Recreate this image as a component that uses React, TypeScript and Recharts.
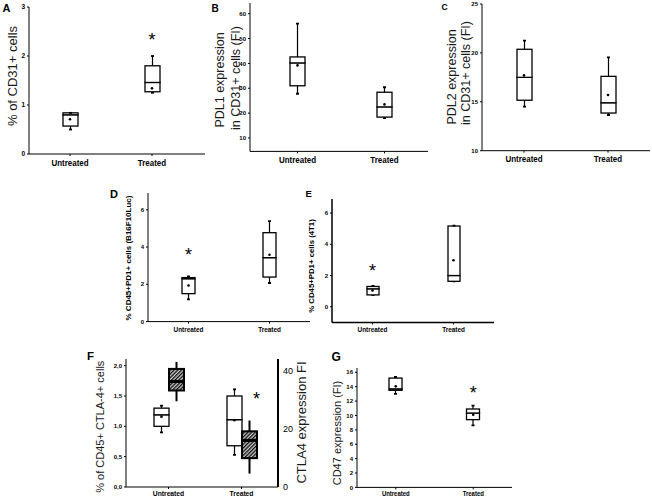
import React from 'react';
import { ComposedChart, Bar, Line, XAxis, YAxis } from 'recharts';

const categories = ['Untreated', 'Treated'];

// A: % of CD31+ cells
const aMin = [0.5, 1.25];
const aQ1 = [0.57, 1.27];
const aMedian = [0.8, 1.46];
const aQ3 = [0.84, 1.8];
const aMax = [0.84, 2.0];
const aMean = [0.71, 1.34];
const aStar = [null, 2.42];
const aTicks = [0, 1, 2, 3];

// B: PDL1 expression in CD31+ cells (FI)
const bMin = [27.8, 18];
const bQ1 = [31, 18.4];
const bMedian = [40.2, 22.5];
const bQ3 = [42.6, 28.4];
const bMax = [56, 30.4];
const bMean = [39.2, 23.5];
const bStar = [null, null];
const bTicks = [10, 20, 30, 40, 50, 60];

// C: PDL2 expression in CD31+ cells (FI)
const cMin = [14.5, 13.65];
const cQ1 = [15.16, 13.85];
const cMedian = [17.5, 14.9];
const cQ3 = [20.37, 17.6];
const cMax = [21.26, 19.55];
const cMean = [17.7, 15.7];
const cStar = [null, null];
const cTicks = [10, 15, 20, 25];

// D: % CD45+PD1+ cells (B16F10Luc)
const dMin = [1.19, 2.07];
const dQ1 = [1.5, 2.39];
const dMedian = [2.3, 3.43];
const dQ3 = [2.36, 4.77];
const dMax = [2.43, 5.39];
const dMean = [1.94, 3.59];
const dStar = [3.8, null];
const dTicks = [0, 2, 4, 6];

// E: % CD45+PD1+ cells (4T1)
const eMin = [0.75, 1.62];
const eQ1 = [0.76, 1.63];
const eMedian = [1.15, 2.0];
const eQ3 = [1.3, 5.17];
const eMax = [1.33, 5.2];
const eMean = [1.04, 2.98];
const eStar = [2.54, null];
const eTicks = [0, 2, 4, 6];

// F: % of CD45+ CTLA-4+ cells (left, white boxes)
const fMin = [0.9, 0.53];
const fQ1 = [1.0, 0.68];
const fMedian = [1.19, 1.11];
const fQ3 = [1.3, 1.5];
const fMax = [1.34, 1.61];
const fMean = [1.16, 1.1];
const fStar = [null, 1.52];
const fTicks = [0, 0.5, 1.0, 1.5, 2.0];
// F: CTLA4 expression FI (right, hatched boxes)
const ctlaMin = [29.4, 4.6];
const ctlaQ1 = [33.1, 9.9];
const ctlaMedian = [36.2, 16.0];
const ctlaQ3 = [40.5, 19.1];
const ctlaMax = [42.9, 22.8];
const ctlaTicks = [0, 20, 40];

// G: CD47 expression (FI)
const gMin = [13.0, 8.63];
const gQ1 = [13.5, 9.42];
const gMedian = [13.7, 10.34];
const gQ3 = [15.2, 10.9];
const gMax = [15.35, 11.36];
const gMean = [14.05, 10.1];
const gStar = [null, 13.7];
const gTicks = [0, 2, 4, 6, 8, 10, 12, 14, 16];

const FONT = '"Liberation Sans", Arial, sans-serif';

type Row = {
  cat: string;
  base: number; w1: number; b1: number; b2: number; w2: number;
  q1: number; med: number; q3: number;
  mean: number | null; star: number | null;
};

function buildRows(mn: number[], q1: number[], md: number[], q3: number[], mx: number[], mean: (number | null)[], star: (number | null)[]): Row[] {
  return categories.map((c, i) => ({
    cat: c,
    base: mn[i],
    w1: q1[i] - mn[i],
    b1: md[i] - q1[i],
    b2: q3[i] - md[i],
    w2: mx[i] - q3[i],
    q1: q1[i], med: md[i], q3: q3[i],
    mean: mean[i],
    star: star[i],
  }));
}

const rowsA = buildRows(aMin, aQ1, aMedian, aQ3, aMax, aMean, aStar);
const rowsB = buildRows(bMin, bQ1, bMedian, bQ3, bMax, bMean, bStar);
const rowsC = buildRows(cMin, cQ1, cMedian, cQ3, cMax, cMean, cStar);
const rowsD = buildRows(dMin, dQ1, dMedian, dQ3, dMax, dMean, dStar);
const rowsE = buildRows(eMin, eQ1, eMedian, eQ3, eMax, eMean, eStar);
const rowsG = buildRows(gMin, gQ1, gMedian, gQ3, gMax, gMean, gStar);
const rowsFw = buildRows(fMin, fQ1, fMedian, fQ3, fMax, fMean, fStar);
const rowsFh = buildRows(ctlaMin, ctlaQ1, ctlaMedian, ctlaQ3, ctlaMax, [null, null], [null, null]);
const rowsF = categories.map((c, i) => ({
  cat: c,
  wbase: rowsFw[i].base, ww1: rowsFw[i].w1, wb1: rowsFw[i].b1, wb2: rowsFw[i].b2, ww2: rowsFw[i].w2,
  wq1: rowsFw[i].q1, wmed: rowsFw[i].med, wq3: rowsFw[i].q3, wmean: rowsFw[i].mean,
  hbase: rowsFh[i].base, hw1: rowsFh[i].w1, hb1: rowsFh[i].b1, hb2: rowsFh[i].b2, hw2: rowsFh[i].w2,
  star: rowsFw[i].star,
}));

const noneShape = () => <g />;

function whisker(p: any, end: 'top' | 'bottom', sw: number, cap: number) {
  if (p == null || p.x == null || p.y == null) return <g />;
  const top = Math.min(p.y, p.y + p.height);
  const h = Math.abs(p.height);
  const cx = p.x + p.width / 2;
  const capY = end === 'top' ? top : top + h;
  return (
    <g>
      {h > 0.3 && <line x1={cx} x2={cx} y1={top} y2={top + h} stroke="#000" strokeWidth={sw} />}
      {cap > 0 && <line x1={cx - cap} x2={cx + cap} y1={capY} y2={capY} stroke="#000" strokeWidth={1.8} />}
    </g>
  );
}

function boxSeg(p: any, fill: string, sw: number, meanInfo?: { lo: number; hi: number; mean: number | null }) {
  if (p == null || p.x == null || p.y == null) return <g />;
  const top = Math.min(p.y, p.y + p.height);
  const h = Math.abs(p.height);
  let dot = null;
  if (meanInfo && meanInfo.mean != null && meanInfo.hi > meanInfo.lo && meanInfo.mean >= meanInfo.lo && meanInfo.mean <= meanInfo.hi) {
    const my = top + h * (meanInfo.hi - meanInfo.mean) / (meanInfo.hi - meanInfo.lo);
    dot = <circle cx={p.x + p.width / 2} cy={my} r={1.3} fill="#000" />;
  }
  return (
    <g>
      <rect x={p.x} y={top} width={p.width} height={h} fill={fill} stroke="#000" strokeWidth={sw} />
      {dot}
    </g>
  );
}

function hatchBox(p: any, medianAtTop: boolean) {
  if (p == null || p.x == null || p.y == null) return <g />;
  const id = `hatch-${p.index}-${Math.round(p.y)}`;
  const top = Math.min(p.y, p.y + p.height);
  const h = Math.abs(p.height);
  const my = medianAtTop ? top : top + h;
  return (
    <g>
      <defs>
        <pattern id={id} patternUnits="userSpaceOnUse" width={2.6} height={2.6} patternTransform="rotate(45)">
          <rect x={0} y={0} width={2.6} height={2.6} fill="#c8c8c8" />
          <rect x={0} y={0} width={1.3} height={2.6} fill="#111" />
        </pattern>
      </defs>
      <rect x={p.x} y={top} width={p.width} height={h} fill={`url(#${id})`} stroke="#000" strokeWidth={2} />
      <line x1={p.x} x2={p.x + p.width} y1={my} y2={my} stroke="#000" strokeWidth={3} />
    </g>
  );
}

const meanDot = (p: any) => {
  if (p == null || p.value == null || p.cy == null || isNaN(p.cy)) return <g key={`m-${p?.index}`} />;
  return <circle key={`m-${p.index}`} cx={p.cx} cy={p.cy} r={1.3} fill="#000" />;
};

function starDot(fs: number, dx: number) {
  return (p: any) => {
    if (p == null || p.value == null || p.cy == null || isNaN(p.cy)) return <g key={`s-${p?.index}`} />;
    return (
      <text key={`s-${p.index}`} x={p.cx + dx} y={p.cy + fs * 0.575} textAnchor="middle" fontSize={fs} fontFamily={FONT} fill="#000">*</text>
    );
  };
}

function narrowTick(fs: number, sx: number) {
  return (p: any) => (
    <g transform={`translate(${p.x},${p.y})`}>
      <text x={0} y={0} dy="0.71em" textAnchor="middle" transform={`scale(${sx},1)`} fontSize={fs} fontWeight={700} fontFamily={FONT} fill="#000">
        {p.payload.value}
      </text>
    </g>
  );
}

type PanelProps = {
  rows: Row[];
  x0: number; x1: number; y0: number; y1: number;
  domain: [number, number];
  ticks: number[];
  barSize: number;
  padL?: number; padR?: number;
  tickFs?: number; catFs?: number; catSx?: number; catMargin?: number; axisW?: number;
  starFs?: number;
};

function Panel(p: PanelProps) {
  const YW = 24, XH = 18, MT = 6, MR = 2;
  const w = p.x1 - p.x0 + YW + MR;
  const h = p.y1 - p.y0 + MT + XH;
  const tickFs = p.tickFs ?? 6.5;
  const catFs = p.catFs ?? 9.5;
  const axisW = p.axisW ?? 1;
  return (
    <div style={{ position: 'absolute', left: p.x0 - YW, top: p.y0 - MT }}>
      <ComposedChart width={w} height={h} data={p.rows} margin={{ top: MT, right: MR, bottom: 0, left: 0 }} barSize={p.barSize}>
        <XAxis
          dataKey="cat"
          height={XH}
          interval={0}
          padding={{ left: p.padL ?? 0, right: p.padR ?? 0 }}
          axisLine={{ stroke: '#000', strokeWidth: axisW }}
          tickLine={{ stroke: '#000' }}
          tickSize={2}
          tickMargin={p.catMargin ?? 3}
          tick={narrowTick(catFs, p.catSx ?? 0.84)}
        />
        <YAxis
          type="number"
          width={YW}
          domain={p.domain}
          ticks={p.ticks}
          allowDataOverflow
          interval={0}
          axisLine={{ stroke: '#000', strokeWidth: axisW }}
          tickLine={{ stroke: '#000' }}
          tickSize={2}
          tickMargin={2}
          tick={{ fontSize: tickFs, fontWeight: 700, fontFamily: FONT, fill: '#000' }}
        />
        <Bar dataKey="base" stackId="s" shape={noneShape} isAnimationActive={false} />
        <Bar dataKey="w1" stackId="s" shape={(q: any) => whisker(q, 'bottom', 1.2, 1.5)} isAnimationActive={false} />
        <Bar dataKey="b1" stackId="s" shape={(q: any) => boxSeg(q, '#fff', 1.3)} isAnimationActive={false} />
        <Bar dataKey="b2" stackId="s" shape={(q: any) => boxSeg(q, '#fff', 1.3)} isAnimationActive={false} />
        <Bar dataKey="w2" stackId="s" shape={(q: any) => whisker(q, 'top', 1.2, 1.5)} isAnimationActive={false} />
        <Line dataKey="mean" stroke="none" dot={meanDot} activeDot={false} isAnimationActive={false} legendType="none" />
        <Line dataKey="star" stroke="none" dot={starDot(p.starFs ?? 18, 0)} activeDot={false} isAnimationActive={false} legendType="none" />
      </ComposedChart>
    </div>
  );
}

function PanelF() {
  const x0 = 126, x1 = 278, y0 = 359.3, y1 = 487.3;
  const YW = 24, YWR = 22, XH = 18, MT = 6;
  const w = x1 - x0 + YW + YWR;
  const h = y1 - y0 + MT + XH;
  const fmt = (v: number) => v.toFixed(1).replace('.', ',');
  return (
    <div style={{ position: 'absolute', left: x0 - YW, top: y0 - MT }}>
      <ComposedChart width={w} height={h} data={rowsF} margin={{ top: MT, right: 0, bottom: 0, left: 0 }} barSize={15} barGap={0}>
        <XAxis
          dataKey="cat"
          height={XH}
          interval={0}
          padding={{ left: 6, right: 0 }}
          axisLine={{ stroke: '#000' }}
          tickLine={{ stroke: '#000' }}
          tickSize={2}
          tickMargin={1.5}
          tick={narrowTick(7.5, 0.9)}
        />
        <YAxis
          yAxisId="left"
          type="number"
          width={YW}
          domain={[0, 2.11]}
          ticks={fTicks}
          allowDataOverflow
          interval={0}
          tickFormatter={fmt}
          axisLine={{ stroke: '#000' }}
          tickLine={{ stroke: '#000' }}
          tickSize={2}
          tickMargin={2}
          tick={{ fontSize: 6, fontWeight: 700, fontFamily: FONT, fill: '#000' }}
        />
        <YAxis
          yAxisId="right"
          orientation="right"
          type="number"
          width={YWR}
          domain={[0, 43.9]}
          ticks={ctlaTicks}
          allowDataOverflow
          interval={0}
          axisLine={{ stroke: '#000', strokeWidth: 2 }}
          tickLine={false}
          tickSize={3}
          tickMargin={2}
          tick={{ fontSize: 9, fontFamily: FONT, fill: '#000' }}
        />
        <Bar yAxisId="left" dataKey="wbase" stackId="w" shape={noneShape} isAnimationActive={false} />
        <Bar yAxisId="left" dataKey="ww1" stackId="w" shape={(q: any) => whisker(q, 'bottom', 1.2, 1.5)} isAnimationActive={false} />
        <Bar yAxisId="left" dataKey="wb1" stackId="w" shape={(q: any) => boxSeg(q, '#fff', 1.3, { lo: q.payload.wq1, hi: q.payload.wmed, mean: q.payload.wmean })} isAnimationActive={false} />
        <Bar yAxisId="left" dataKey="wb2" stackId="w" shape={(q: any) => boxSeg(q, '#fff', 1.3, { lo: q.payload.wmed, hi: q.payload.wq3, mean: q.payload.wmean })} isAnimationActive={false} />
        <Bar yAxisId="left" dataKey="ww2" stackId="w" shape={(q: any) => whisker(q, 'top', 1.2, 1.5)} isAnimationActive={false} />
        <Bar yAxisId="right" dataKey="hbase" stackId="h" shape={noneShape} isAnimationActive={false} />
        <Bar yAxisId="right" dataKey="hw1" stackId="h" shape={(q: any) => whisker(q, 'bottom', 2, 0)} isAnimationActive={false} />
        <Bar yAxisId="right" dataKey="hb1" stackId="h" shape={(q: any) => hatchBox(q, true)} isAnimationActive={false} />
        <Bar yAxisId="right" dataKey="hb2" stackId="h" shape={(q: any) => hatchBox(q, false)} isAnimationActive={false} />
        <Bar yAxisId="right" dataKey="hw2" stackId="h" shape={(q: any) => whisker(q, 'top', 2, 0)} isAnimationActive={false} />
        <Line yAxisId="left" dataKey="star" stroke="none" dot={starDot(18, 15)} activeDot={false} isAnimationActive={false} legendType="none" />
      </ComposedChart>
    </div>
  );
}

function VText({ x, y, text, fs, bold, color }: { x: number; y: number; text: string; fs: number; bold?: boolean; color?: string }) {
  return (
    <text
      x={x}
      y={y}
      transform={`rotate(-90 ${x} ${y})`}
      textAnchor="middle"
      dominantBaseline="central"
      fontSize={fs}
      fontWeight={bold ? 700 : 400}
      fontFamily={FONT}
      fill={color ?? '#1a1a1a'}
    >
      {text}
    </text>
  );
}

function Letter({ x, y, t, fs }: { x: number; y: number; t: string; fs: number }) {
  return (
    <text x={x} y={y} fontSize={fs} fontWeight={700} fontFamily={FONT} fill="#000">{t}</text>
  );
}

export default function App() {
  return (
    <div style={{ position: 'absolute', left: 0, top: 0, width: 652, height: 498, background: '#fff', overflow: 'hidden', fontFamily: FONT }}>
      <Panel rows={rowsA} x0={29} x1={205} y0={7} y1={154} domain={[0, 3]} ticks={aTicks} barSize={15} padR={12} tickFs={6.5} catFs={9.5} />
      <Panel rows={rowsB} x0={250} x1={428} y0={3.3} y1={151.7} domain={[4.6, 64.3]} ticks={bTicks} barSize={15} padL={4} tickFs={6} catFs={9.5} />
      <Panel rows={rowsC} x0={482} x1={650} y0={4} y1={150.7} domain={[10, 25]} ticks={cTicks} barSize={15} tickFs={6} catFs={9.5} />
      <Panel rows={rowsD} x0={148} x1={310} y0={192.7} y1={321.3} domain={[0, 6.9]} ticks={dTicks} barSize={13} tickFs={6} catFs={8} catSx={0.8} catMargin={3} />
      <Panel rows={rowsE} x0={332} x1={494} y0={199.3} y1={322.7} domain={[-1, 6.9]} ticks={eTicks} barSize={12} tickFs={6} catFs={8} catSx={0.8} catMargin={2} axisW={1.5} />
      <PanelF />
      <Panel rows={rowsG} x0={357} x1={512} y0={368.3} y1={487.7} domain={[0, 16.6]} ticks={gTicks} barSize={13} tickFs={6} catFs={7} catSx={0.85} catMargin={1.2} />
      <svg width={652} height={498} style={{ position: 'absolute', left: 0, top: 0, pointerEvents: 'none' }}>
        <Letter x={2.5} y={12} t="A" fs={11} />
        <Letter x={211.5} y={11.5} t="B" fs={10} />
        <Letter x={441.5} y={9.5} t="C" fs={8.5} />
        <Letter x={110} y={197.5} t="D" fs={11} />
        <Letter x={305.5} y={197} t="E" fs={9.5} />
        <Letter x={87} y={360} t="F" fs={11.5} />
        <Letter x={331.5} y={361} t="G" fs={12} />
        <VText x={12} y={76} text="% of CD31+ cells" fs={13} />
        <VText x={219.5} y={80} text="PDL1 expression" fs={12.5} />
        <VText x={236} y={78} text="in CD31+ cells (FI)" fs={12.5} />
        <VText x={452} y={77} text="PDL2 expression" fs={12.5} />
        <VText x={466} y={73} text="in CD31+ cells (FI)" fs={12.5} />
        <VText x={128} y={258} text="% CD45+PD1+ cells  (B16F10Luc)" fs={8} bold color="#000" />
        <VText x={311.7} y={266} text="% CD45+PD1+ cells (4T1)" fs={7.8} bold color="#000" />
        <VText x={100.5} y={426.7} text="% of CD45+ CTLA-4+ cells" fs={11} />
        <VText x={301.7} y={422.5} text="CTLA4 expression FI" fs={13} />
        <VText x={337} y={433} text="CD47 expression (FI)" fs={11} />
      </svg>
    </div>
  );
}
